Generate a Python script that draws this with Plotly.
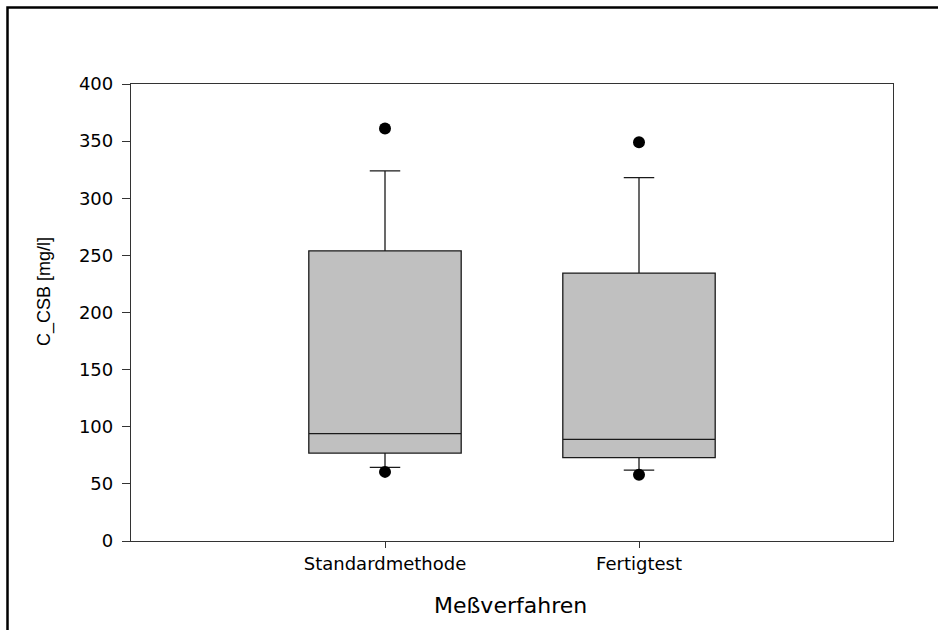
import plotly.graph_objects as go

# Box statistics per measurement method (C_CSB in mg/l)
methods = ["Standardmethode", "Fertigtest"]
lower_fence = [64.5, 62.0]
q1 = [77.0, 73.0]
median = [94.0, 89.0]
q3 = [254.0, 234.5]
upper_fence = [324.0, 318.0]

# Outliers beyond the whiskers
outlier_method = ["Standardmethode", "Standardmethode", "Fertigtest", "Fertigtest"]
outlier_value = [361.0, 60.5, 349.0, 58.0]

y_ticks = [0, 50, 100, 150, 200, 250, 300, 350, 400]

W, H = 938, 630
L, R, T, B = 131, 45, 84, 89
pw, ph = W - L - R, H - T - B

fig = go.Figure()

fig.add_trace(go.Box(
    x=methods,
    q1=q1, median=median, q3=q3,
    lowerfence=lower_fence, upperfence=upper_fence,
    boxpoints=False,
    width=0.6,
    whiskerwidth=0.2,
    fillcolor="#c0c0c0",
    line=dict(color="#1a1a1a", width=1.3),
    showlegend=False,
    hoverinfo="skip",
))

fig.add_trace(go.Scatter(
    x=outlier_method, y=outlier_value,
    mode="markers",
    marker=dict(color="black", size=12),
    showlegend=False,
    hoverinfo="skip",
))

tick_font = dict(family="DejaVu Sans", size=18, color="black")

fig.update_xaxes(
    type="category",
    categoryorder="array", categoryarray=methods,
    range=[-1, 2],
    showline=True, linecolor="#333333", linewidth=1.3, mirror=True,
    ticks="outside", ticklen=6, tickwidth=1.3, tickcolor="#333333",
    showgrid=False, zeroline=False,
    tickfont=tick_font,
)
fig.update_yaxes(
    range=[0, 400],
    tickvals=y_ticks,
    showline=True, linecolor="#333333", linewidth=1.3, mirror=True,
    ticks="outside", ticklen=8, tickwidth=1.3, tickcolor="#333333",
    showgrid=False, zeroline=False,
    tickfont=tick_font,
    ticklabelstandoff=5,
)

def px_x(p):
    return (p - L) / pw

def px_y(p):
    return (H - B - p) / ph

# Axis titles
fig.add_annotation(
    text="Meßverfahren", xref="paper", yref="paper",
    x=px_x(510), y=px_y(605), showarrow=False,
    font=dict(family="DejaVu Sans", size=22, color="black"),
    xanchor="center", yanchor="middle",
)
fig.add_annotation(
    text="C_CSB [mg/l]", xref="paper", yref="paper",
    x=px_x(44), y=px_y(292), showarrow=False, textangle=-90,
    font=dict(family="Liberation Sans", size=18, color="black"),
    xanchor="center", yanchor="middle",
)

# Page frame (left and top edges)
fig.add_shape(
    type="path", xref="paper", yref="paper",
    path=f"M {px_x(7.5)} {px_y(640)} L {px_x(7.5)} {px_y(7.5)} L {px_x(945)} {px_y(7.5)}",
    line=dict(color="black", width=2.5),
)

fig.update_layout(
    width=W, height=H,
    margin=dict(l=L, r=R, t=T, b=B),
    paper_bgcolor="white", plot_bgcolor="white",
)

fig.write_html("out.html")
